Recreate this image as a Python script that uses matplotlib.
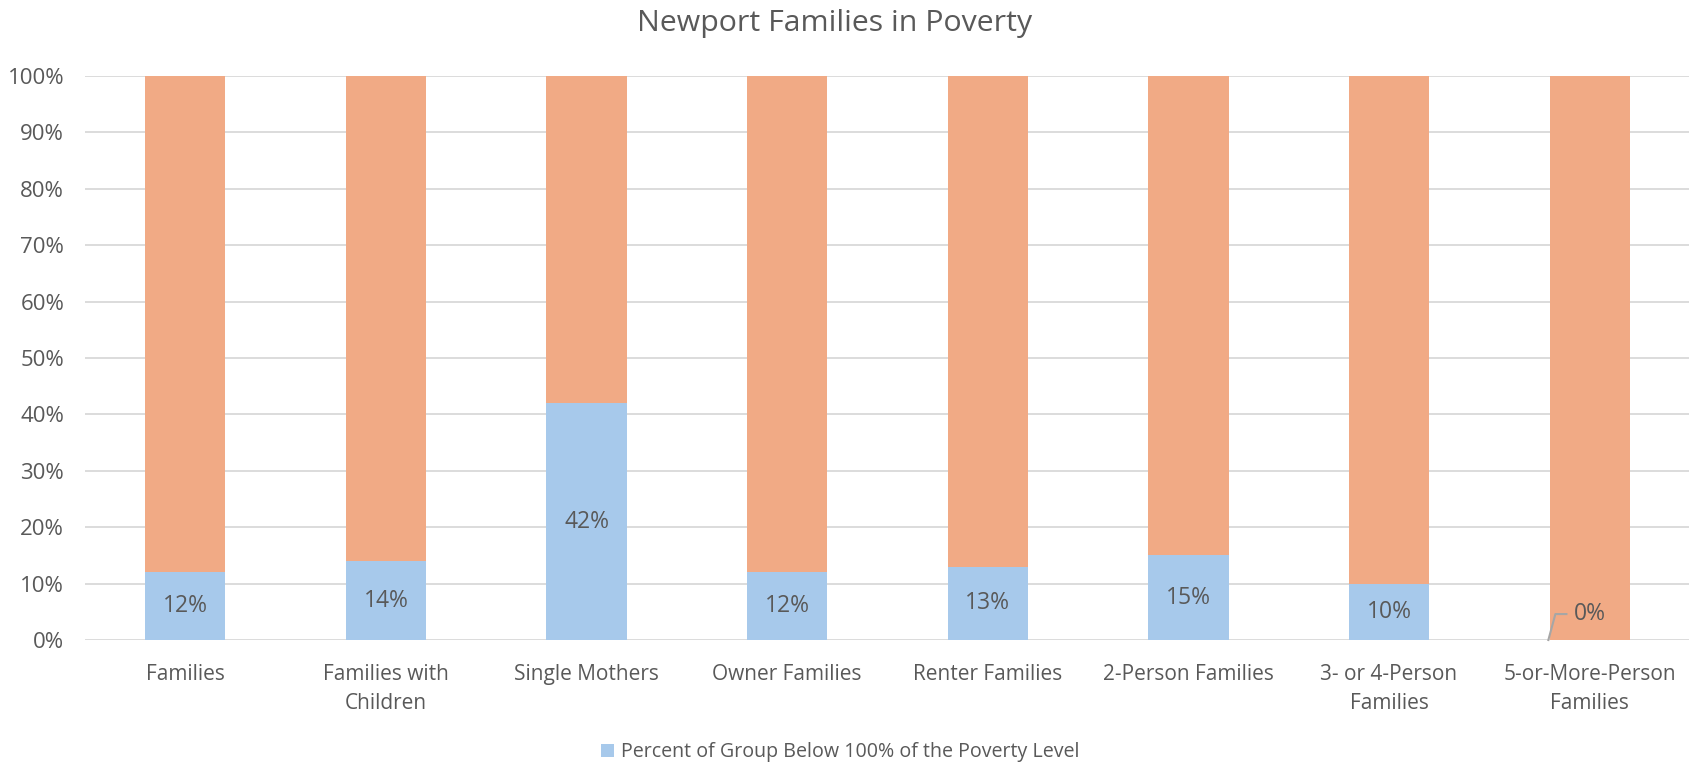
import numpy as np
import matplotlib.pyplot as plt
from matplotlib.ticker import PercentFormatter

plt.rcParams['font.family'] = ['Open Sans', 'DejaVu Sans']

categories = ['Families', 'Families with\nChildren', 'Single Mothers', 'Owner Families',
              'Renter Families', '2-Person Families', '3- or 4-Person\nFamilies',
              '5-or-More-Person\nFamilies']
below_poverty = [12, 14, 42, 12, 13, 15, 10, 0]
above_poverty = [100 - v for v in below_poverty]

blue = '#A7C9EB'
orange = '#F1AA85'
text_col = '#595959'
grid_col = '#D9D9D9'

fig = plt.figure(figsize=(16.9, 7.67), dpi=100)
ax = fig.add_axes([85 / 1690, 1 - 640 / 767, 1605 / 1690, 564 / 767])

x = np.arange(len(categories))
w = 0.4
ax.bar(x, below_poverty, width=w, color=blue, zorder=3,
       label='Percent of Group Below 100% of the Poverty Level')
ax.bar(x, above_poverty, width=w, bottom=below_poverty, color=orange, zorder=3)

# value labels in the blue segment
for xi, v in zip(x, below_poverty):
    if v > 0:
        ax.text(xi, v / 2, f'{v}%', ha='center', va='center', fontsize=16.5, color=text_col, zorder=4)
    else:
        # leader line for the empty segment
        ax.plot([xi - 0.206, xi - 0.171, xi - 0.116], [0, 4.6, 4.6], color='#A6A6A6', lw=1.5,
                zorder=4, clip_on=False)
        ax.text(xi - 0.08, 4.6, f'{v}%', ha='left', va='center', fontsize=16.5, color=text_col, zorder=4)

ax.set_xlim(-0.5, len(categories) - 0.5)
ax.set_ylim(0, 100)
ax.set_yticks(range(0, 101, 10))
ax.yaxis.set_major_formatter(PercentFormatter(decimals=0))
ax.set_xticks(x)
ax.set_xticklabels(categories, fontsize=15, color=text_col, linespacing=1.5)
ax.tick_params(axis='y', labelsize=16, labelcolor=text_col, length=0, pad=15)
ax.tick_params(axis='x', length=0, pad=17)
ax.grid(axis='y', color=grid_col, lw=1.3, zorder=0)
for s in ax.spines.values():
    s.set_visible(False)

fig.text(835 / 1690, 1 - 24 / 767, 'Newport Families in Poverty', ha='center', va='center',
         fontsize=21.8, color=text_col)

fig.legend(loc='center', bbox_to_anchor=(840 / 1690, 1 - 752 / 767), frameon=False, fontsize=14.1,
           labelcolor=text_col, handlelength=0.65, handleheight=0.65, handletextpad=0.35)

fig.savefig('out.png', dpi=100)
